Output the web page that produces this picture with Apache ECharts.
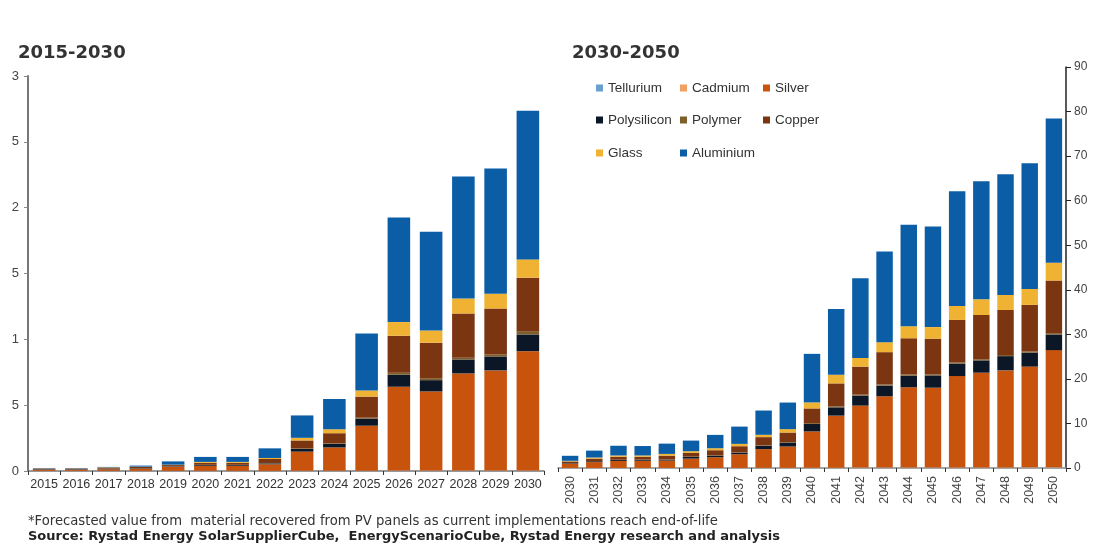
<!DOCTYPE html>
<html>
<head>
<meta charset="utf-8">
<script src="https://cdn.jsdelivr.net/npm/echarts@6/dist/echarts.min.js"></script>
<style>
html,body{margin:0;padding:0;background:#fff;}
#chart{width:1094px;height:549px;}
</style>
</head>
<body>
<div id="chart"></div>
<script>
// ---------- data ----------
const seriesNames = ['Tellurium','Cadmium','Silver','Polysilicon','Polymer','Copper','Glass','Aluminium'];
const seriesColors = ['#6a9fd0','#f0a060','#c8530d','#0b1727','#7d5f2e','#7b3510','#efb233','#0b5ea6'];

const leftYears = ['2015','2016','2017','2018','2019','2020','2021','2022','2023','2024','2025','2026','2027','2028','2029','2030'];
const leftTickLabels = ['0','5','1','5','2','5','3'];
const leftTellurium   = [0.0005,0.0005,0.0005,0.0005,0.0005,0.0005,0.0005,0.0005,0.001,0.001,0.001,0.002,0.002,0.002,0.002,0.002];
const leftCadmium     = [0.0005,0.0005,0.0005,0.0005,0.0005,0.0005,0.0005,0.0005,0.001,0.001,0.001,0.002,0.002,0.002,0.002,0.002];
const leftSilver      = [0.008,0.008,0.012,0.015,0.03,0.038,0.038,0.05,0.145,0.177,0.342,0.636,0.6,0.737,0.76,0.906];
const leftPolysilicon = [0.004,0.004,0.004,0.004,0.004,0.006,0.006,0.007,0.02,0.027,0.053,0.091,0.086,0.106,0.106,0.127];
const leftPolymer     = [0.001,0.001,0.001,0.001,0.002,0.002,0.002,0.003,0.005,0.005,0.008,0.015,0.015,0.013,0.015,0.025];
const leftCopper      = [0.005,0.005,0.008,0.01,0.008,0.015,0.015,0.03,0.06,0.076,0.16,0.281,0.269,0.336,0.349,0.406];
const leftGlass       = [0.001,0.001,0.002,0.002,0.003,0.007,0.007,0.008,0.02,0.03,0.046,0.104,0.093,0.114,0.112,0.139];
const leftAluminium   = [0.002,0.002,0.003,0.008,0.025,0.038,0.038,0.073,0.17,0.23,0.433,0.794,0.75,0.927,0.952,1.13];

const rightYears = ['2030','2031','2032','2033','2034','2035','2036','2037','2038','2039','2040','2041','2042','2043','2044','2045','2046','2047','2048','2049','2050'];
const rightTellurium   = [0.01,0.01,0.01,0.01,0.01,0.01,0.01,0.01,0.02,0.02,0.03,0.04,0.05,0.05,0.06,0.06,0.07,0.07,0.07,0.08,0.08];
const rightCadmium     = [0.01,0.01,0.01,0.01,0.01,0.01,0.01,0.01,0.02,0.02,0.03,0.04,0.05,0.05,0.06,0.06,0.07,0.07,0.07,0.08,0.08];
const rightSilver      = [0.9,1.3,1.57,1.6,1.64,2.09,2.4,3.07,4.2,4.78,8.15,11.67,13.91,16.0,18.0,17.9,20.5,21.25,21.77,22.6,26.3];
const rightPolysilicon = [0.13,0.2,0.22,0.22,0.22,0.38,0.36,0.36,0.74,0.9,1.66,1.86,2.24,2.4,2.6,2.76,2.78,2.76,3.2,3.14,3.5];
const rightPolymer     = [0.02,0.03,0.04,0.04,0.04,0.05,0.06,0.08,0.1,0.12,0.2,0.22,0.22,0.25,0.25,0.25,0.25,0.25,0.25,0.25,0.3];
const rightCopper      = [0.4,0.55,0.67,0.65,0.86,0.85,1.15,1.36,1.85,2.12,3.3,5.16,6.28,7.25,8.15,8.0,9.56,9.94,10.1,10.46,11.8];
const rightGlass       = [0.14,0.25,0.29,0.28,0.38,0.38,0.45,0.52,0.52,0.76,1.35,1.95,1.95,2.24,2.69,2.6,3.14,3.52,3.37,3.59,4.0];
const rightAluminium   = [1.13,1.55,2.18,2.12,2.31,2.38,2.99,3.88,5.45,5.97,10.9,14.74,17.86,20.35,22.76,22.6,25.74,26.48,27.09,28.2,32.4];

const leftData  = [leftTellurium,leftCadmium,leftSilver,leftPolysilicon,leftPolymer,leftCopper,leftGlass,leftAluminium];
const rightData = [rightTellurium,rightCadmium,rightSilver,rightPolysilicon,rightPolymer,rightCopper,rightGlass,rightAluminium];

// ---------- chart ----------
const chart = echarts.init(document.getElementById('chart'), null, {renderer:'canvas'});
const FONT = '"Liberation Sans", Arial, sans-serif';
const BOLD = '"DejaVu Sans", Verdana, sans-serif';

const series = [];
seriesNames.forEach((n,i)=>{
  series.push({name:n,type:'bar',stack:'L',xAxisIndex:0,yAxisIndex:0,data:leftData[i],
    itemStyle:{color:seriesColors[i]},barCategoryGap:'30%',animation:false});
});
seriesNames.forEach((n,i)=>{
  series.push({name:n,type:'bar',stack:'R',xAxisIndex:1,yAxisIndex:1,data:rightData[i],
    itemStyle:{color:seriesColors[i]},barCategoryGap:'32%',animation:false});
});

// legend layout: 3 columns x 3 rows
const legendPos = [[596,81],[680,81],[763,81],[596,113],[680,113],[763,113],[596,146],[680,146]];
const legends = seriesNames.map((n,i)=>({
  data:[n], left:legendPos[i][0], top:legendPos[i][1], itemWidth:7, itemHeight:7, itemGap:0,
  icon:'rect', textStyle:{fontFamily:FONT,fontSize:13.5,color:'#333',padding:[0,0,0,0]}, padding:0, selectedMode:false
}));

const option = {
  animation:false,
  backgroundColor:'#fff',
  title:[
    {text:'2015-2030',left:18,top:44,padding:0,textStyle:{fontFamily:BOLD,fontWeight:'bold',fontSize:18,color:'#333'}},
    {text:'2030-2050',left:572,top:44,padding:0,textStyle:{fontFamily:BOLD,fontWeight:'bold',fontSize:18,color:'#333'}},
    {text:'*Forecasted value from  material recovered from PV panels as current implementations reach end-of-life',left:28,top:515,padding:0,
      textStyle:{fontFamily:'"DejaVu Sans", sans-serif',fontWeight:'normal',fontSize:13.2,color:'#333'}},
    {text:'Source: Rystad Energy SolarSupplierCube,  EnergyScenarioCube, Rystad Energy research and analysis',left:28,top:530,padding:0,
      textStyle:{fontFamily:BOLD,fontWeight:'bold',fontSize:13,color:'#222'}}
  ],
  legend:legends,
  grid:[
    {left:28,top:76,width:516,height:395,containLabel:false},
    {left:558,top:67,width:508,height:401,containLabel:false}
  ],
  xAxis:[
    {type:'category',gridIndex:0,data:leftYears,
      axisLine:{lineStyle:{color:'#777',width:1.5}},
      axisTick:{show:true,length:4,lineStyle:{color:'#333'}},
      axisLabel:{interval:0,fontFamily:FONT,fontSize:12.5,color:'#333',margin:7}},
    {type:'category',gridIndex:1,data:rightYears,
      axisLine:{lineStyle:{color:'#888',width:1.5}},
      axisTick:{show:true,length:4,lineStyle:{color:'#333'}},
      axisLabel:{interval:0,rotate:90,fontFamily:FONT,fontSize:12.5,color:'#444',margin:8}}
  ],
  yAxis:[
    {type:'value',gridIndex:0,min:0,max:3,interval:0.5,
      axisLine:{show:true,lineStyle:{color:'#777',width:2}},
      axisTick:{show:true,length:4,lineStyle:{color:'#888'}},
      splitLine:{show:false},
      axisLabel:{fontFamily:FONT,fontSize:13,color:'#444',margin:9,
        formatter:(v)=>leftTickLabels[Math.round(v/0.5)]}},
    {type:'value',gridIndex:1,position:'right',min:0,max:90,interval:10,
      axisLine:{show:true,lineStyle:{color:'#222',width:1.5}},
      axisTick:{show:true,length:5,lineStyle:{color:'#222'}},
      splitLine:{show:false},
      axisLabel:{fontFamily:FONT,fontSize:12,color:'#444',margin:8}}
  ],
  series:series
};
chart.setOption(option);
</script>
</body>
</html>
